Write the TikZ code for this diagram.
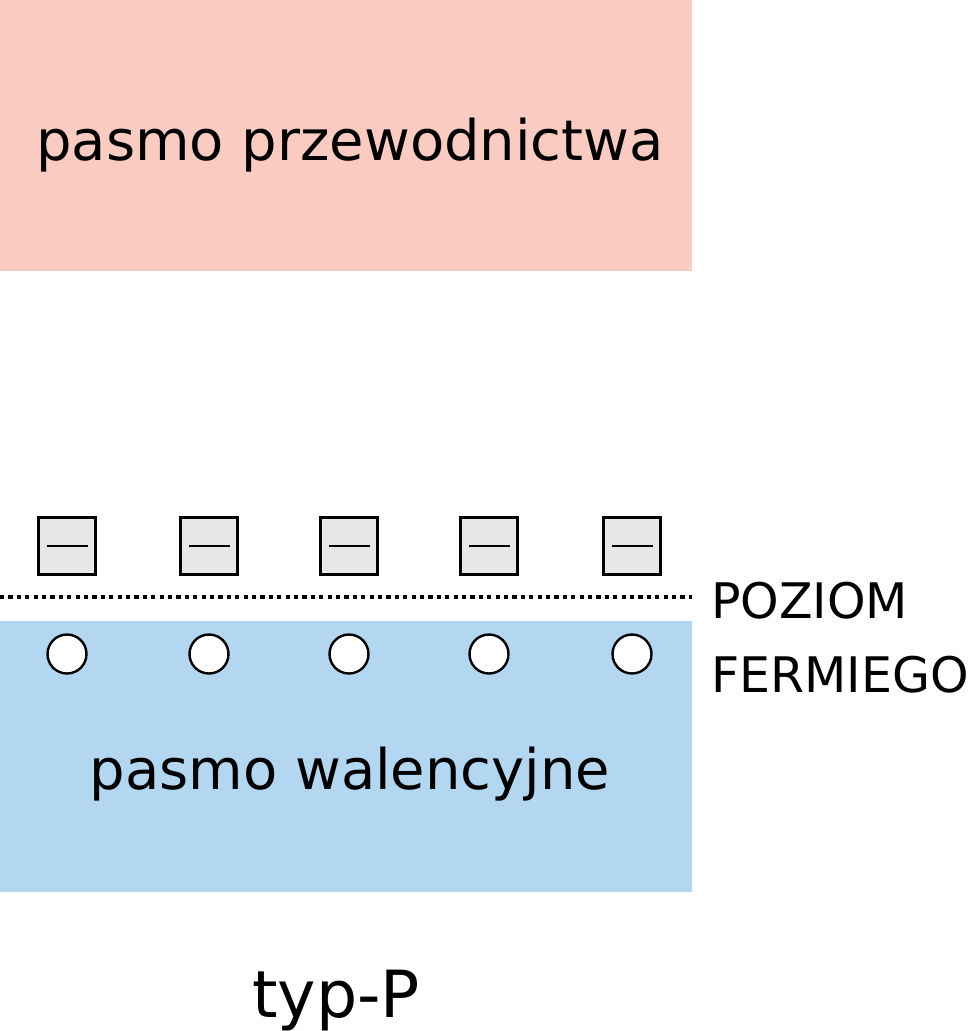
\documentclass[tikz,border=0pt]{standalone}
\usepackage{fontspec}
\setmainfont{DejaVu Sans}
\definecolor{cband}{HTML}{F9CBC1}
\definecolor{vband}{HTML}{B3D6F1}
\definecolor{accfill}{HTML}{E6E7E8}
\tikzset{
  band/.style={draw=none, inner sep=0pt, minimum width=692pt, minimum height=271pt, anchor=north west},
  acceptor/.style={draw=black, line width=2.4pt, fill=accfill, minimum size=57pt, inner sep=0pt},
  hole/.style={circle, draw=black, line width=2.4pt, fill=white, minimum size=39pt, inner sep=0pt},
  bigtxt/.style={font=\fontsize{56}{66}\selectfont, inner sep=0pt, anchor=base},
  lbl/.style={font=\fontsize{49}{58}\selectfont, inner sep=0pt, anchor=base west},
}
\begin{document}
\begin{tikzpicture}[x=1pt,y=-1pt]
\useasboundingbox (0,0) rectangle (970,1031);
\node[band, fill=cband] (cb) at (0,0) {};
\node[band, fill=vband] (vb) at (0,621) {};
\node[bigtxt] (cbt) at (350,160) {pasmo przewodnictwa};
\node[bigtxt] (vbt) at (350,789) {pasmo walencyjne};
\coordinate (fl) at (0,597);
\coordinate (fr) at (692,597);
\draw[line width=3.4pt, dash pattern=on 4.2pt off 4.2pt] (fl) -- (fr);
\foreach \i/\x in {1/67,2/209,3/349,4/489,5/632}{
  \node[acceptor] (a\i) at (\x,546) {};
  \draw[line width=2pt] ([xshift=-20.5pt]a\i.center) -- ([xshift=20.5pt]a\i.center);
  \node[hole] (h\i) at (\x,654) {};
}
\node[lbl] (poz) at (711,618) {POZIOM};
\node[lbl] (fer) at (711,692) {FERMIEGO};
\node[font=\fontsize{65}{76}\selectfont, inner sep=0pt, anchor=base] (typ) at (336,1017) {typ-P};
\end{tikzpicture}
\end{document}
